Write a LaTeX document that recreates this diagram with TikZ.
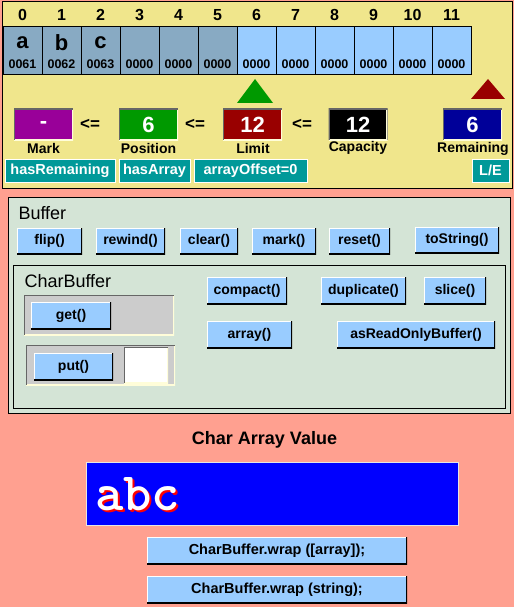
\documentclass[tikz,border=0pt]{standalone}
\usepackage {fontspec}
\setmainfont {Liberation Sans}
\usepackage {tikz}
\definecolor {salmon} {RGB} {255,160,144}
\definecolor {khaki} {RGB} {240,230,140}
\definecolor {panelgreen} {RGB} {212,228,214}
\definecolor {usedcell} {RGB} {136,170,195}
\definecolor {freecell} {RGB} {153,204,255}
\definecolor {flagteal} {RGB} {0,153,153}
\definecolor {markpurple} {RGB} {153,0,153}
\definecolor {posgreen} {RGB} {0,153,0}
\definecolor {limitred} {RGB} {153,0,0}
\definecolor {remblue} {RGB} {0,0,153}
\definecolor {slotgray} {RGB} {204,204,204}
\definecolor {valueblue} {RGB} {0,0,255}
\tikzstyle {raised} = [path picture={
    \draw [white, line width=2.5pt] (path picture bounding box.south west) -- (path picture bounding box.north west) -- (path picture bounding box.north east);
    \draw [black, line width=2.5pt] (path picture bounding box.south west) -- (path picture bounding box.south east) -- (path picture bounding box.north east);}]
\tikzstyle {sunken} = [path picture={
    \draw [white!85!yellow, line width=2.5pt] (path picture bounding box.south west) -- (path picture bounding box.south east) -- (path picture bounding box.north east);
    \draw [black!60, line width=2.5pt] (path picture bounding box.south west) -- (path picture bounding box.north west) -- (path picture bounding box.north east);}]
\tikzstyle {cell} = [draw=black, line width=1pt, minimum width=39pt, minimum height=48pt, inner sep=0pt]
\tikzstyle {index} = [font=\fontsize{16}{18}\selectfont\bfseries]
\tikzstyle {letter} = [font=\fontsize{22}{24}\selectfont\bfseries]
\tikzstyle {hexcode} = [font=\fontsize{12.5}{14}\selectfont\bfseries]
\tikzstyle {valuebox} = [sunken, minimum width=59pt, minimum height=31pt, inner sep=0pt, text=white, font=\fontsize{22}{24}\selectfont\bfseries]
\tikzstyle {lessequal} = [font=\fontsize{17}{19}\selectfont\bfseries]
\tikzstyle {caption} = [font=\fontsize{14}{16}\selectfont\bfseries]
\tikzstyle {flag} = [fill=flagteal, draw=white, line width=1pt, text=white, minimum height=23pt, inner sep=0pt, font=\fontsize{14.5}{16}\selectfont\bfseries]
\tikzstyle {button} = [fill=freecell, raised, minimum height=26pt, inner sep=0pt, font=\fontsize{14}{16}\selectfont\bfseries]
\tikzstyle {panel} = [fill=panelgreen, draw=black, line width=1pt]
\tikzstyle {heading} = [anchor=west, font=\fontsize{18}{20}\selectfont]

\begin{document}
\begin{tikzpicture}[x=1pt, y=-1pt]
      \path [use as bounding box, fill=salmon] (0,0) rectangle (514,607);
      % buffer contents
      \draw [fill=khaki, line width=1pt] (2,2) rectangle (512,188);
      \node [index] (i0) at (22.5,15) {0};
      \node [index] (i1) at (61.5,15) {1};
      \node [index] (i2) at (100.5,15) {2};
      \node [index] (i3) at (139.5,15) {3};
      \node [index] (i4) at (178.5,15) {4};
      \node [index] (i5) at (217.5,15) {5};
      \node [index] (i6) at (256.5,15) {6};
      \node [index] (i7) at (295.5,15) {7};
      \node [index] (i8) at (334.5,15) {8};
      \node [index] (i9) at (373.5,15) {9};
      \node [index] (i10) at (412.5,15) {10};
      \node [index] (i11) at (451.5,15) {11};
      \node [cell, fill=usedcell] (c0) at (22.5,51) {};
      \node [cell, fill=usedcell] (c1) at (61.5,51) {};
      \node [cell, fill=usedcell] (c2) at (100.5,51) {};
      \node [cell, fill=usedcell] (c3) at (139.5,51) {};
      \node [cell, fill=usedcell] (c4) at (178.5,51) {};
      \node [cell, fill=usedcell] (c5) at (217.5,51) {};
      \node [cell, fill=freecell] (c6) at (256.5,51) {};
      \node [cell, fill=freecell] (c7) at (295.5,51) {};
      \node [cell, fill=freecell] (c8) at (334.5,51) {};
      \node [cell, fill=freecell] (c9) at (373.5,51) {};
      \node [cell, fill=freecell] (c10) at (412.5,51) {};
      \node [cell, fill=freecell] (c11) at (451.5,51) {};
      \node [letter] (la) at (22.5,43) {a};
      \node [letter] (lb) at (61.5,43) {b};
      \node [letter] (lc) at (100.5,43) {c};
      \node [hexcode] (h0) at (22.5,64) {0061};
      \node [hexcode] (h1) at (61.5,64) {0062};
      \node [hexcode] (h2) at (100.5,64) {0063};
      \node [hexcode] (h3) at (139.5,64) {0000};
      \node [hexcode] (h4) at (178.5,64) {0000};
      \node [hexcode] (h5) at (217.5,64) {0000};
      \node [hexcode] (h6) at (256.5,64) {0000};
      \node [hexcode] (h7) at (295.5,64) {0000};
      \node [hexcode] (h8) at (334.5,64) {0000};
      \node [hexcode] (h9) at (373.5,64) {0000};
      \node [hexcode] (h10) at (412.5,64) {0000};
      \node [hexcode] (h11) at (451.5,64) {0000};
      \fill [posgreen] (237,103) -- (255,79) -- (273,103) -- cycle;
      \fill [limitred] (471,99) -- (488,79) -- (505,99) -- cycle;
      % mark <= position <= limit <= capacity
      \node [valuebox, fill=markpurple] (mark) at (43.5,124.5) {-};
      \node [valuebox, fill=posgreen] (position) at (148.5,124.5) {6};
      \node [valuebox, fill=limitred] (limit) at (252.5,124.5) {12};
      \node [valuebox, fill=black] (capacity) at (358,124.5) {12};
      \node [valuebox, fill=remblue] (remaining) at (472.5,124.5) {6};
      \node [lessequal] (le1) at (90,124) {<=};
      \node [lessequal] (le2) at (195,124) {<=};
      \node [lessequal] (le3) at (302,124) {<=};
      \node [caption] (markcap) at (43.5,148) {Mark};
      \node [caption] (poscap) at (148.5,148) {Position};
      \node [caption] (limitcap) at (253,148) {Limit};
      \node [caption] (capcap) at (358,148) {Capacity};
      \node [caption] (remcap) at (473,149) {Remaining};
      \node [flag, minimum width=110pt] (hasrem) at (60,170.5) {hasRemaining};
      \node [flag, minimum width=71pt] (hasarr) at (154.5,170.5) {hasArray};
      \node [flag, minimum width=113pt] (offset) at (250.5,170.5) {arrayOffset=0};
      \node [flag, minimum width=37pt] (endian) at (490.5,170.5) {L/E};
      % methods
      \draw [panel] (8,197) rectangle (510,413);
      \node [heading] (buffer) at (15,213) {Buffer};
      \node [button, minimum width=65pt] (flip) at (49.5,241) {flip()};
      \node [button, minimum width=69pt] (rewind) at (130.5,241) {rewind()};
      \node [button, minimum width=58pt] (clear) at (209,241) {clear()};
      \node [button, minimum width=64pt] (markbtn) at (284,241) {mark()};
      \node [button, minimum width=61pt] (reset) at (359.5,241) {reset()};
      \node [button, minimum width=84pt] (tostring) at (457,240) {toString()};
      \draw [panel] (13,265) rectangle (505,408);
      \node [heading] (charbuffer) at (21,281) {CharBuffer};
      \path [fill=slotgray, sunken] (24,295) rectangle (174,335);
      \path [fill=slotgray, sunken] (26,345) rectangle (175,385);
      \node [button, minimum width=80pt, minimum height=27pt] (get) at (71,315.5) {get()};
      \node [button, minimum width=79pt, minimum height=27pt] (put) at (73.5,366.5) {put()};
      \node [fill=white, sunken, minimum width=44pt, minimum height=36pt] (putchar) at (146,365) {};
      \node [button, minimum width=80pt, minimum height=27pt] (compact) at (247,290.5) {compact()};
      \node [button, minimum width=85pt, minimum height=27pt] (duplicate) at (363.5,290.5) {duplicate()};
      \node [button, minimum width=62pt, minimum height=27pt] (slice) at (455,290.5) {slice()};
      \node [button, minimum width=85pt, minimum height=27pt] (array) at (249.5,334.5) {array()};
      \node [button, minimum width=158pt, minimum height=27pt] (readonly) at (416,334.5) {asReadOnlyBuffer()};
      % char array value
      \node [font=\fontsize{18}{20}\selectfont\bfseries] (valuetitle) at (264.5,440) {Char Array Value};
      \node [fill=valueblue, draw=white!80!gray, line width=1pt, minimum width=372pt, minimum height=63pt] (value) at (272,493.5) {};
      \node [anchor=base west, inner sep=0pt, text=red, font=\fontsize{54}{56}\selectfont\ttfamily\bfseries] (abcshadow) at (97,512) {abc};
      \node [anchor=base west, inner sep=0pt, text=white, font=\fontsize{54}{56}\selectfont\ttfamily\bfseries] (abc) at (95,510) {abc};
      \node [button, minimum width=260pt, minimum height=27pt, font=\fontsize{14.5}{16}\selectfont\bfseries] (wraparray) at (277,550.5) {CharBuffer.wrap ([array]);};
      \node [button, minimum width=260pt, minimum height=27pt, font=\fontsize{14.5}{16}\selectfont\bfseries] (wrapstring) at (277,589.5) {CharBuffer.wrap (string);};
    \end{tikzpicture}
\end{document}
